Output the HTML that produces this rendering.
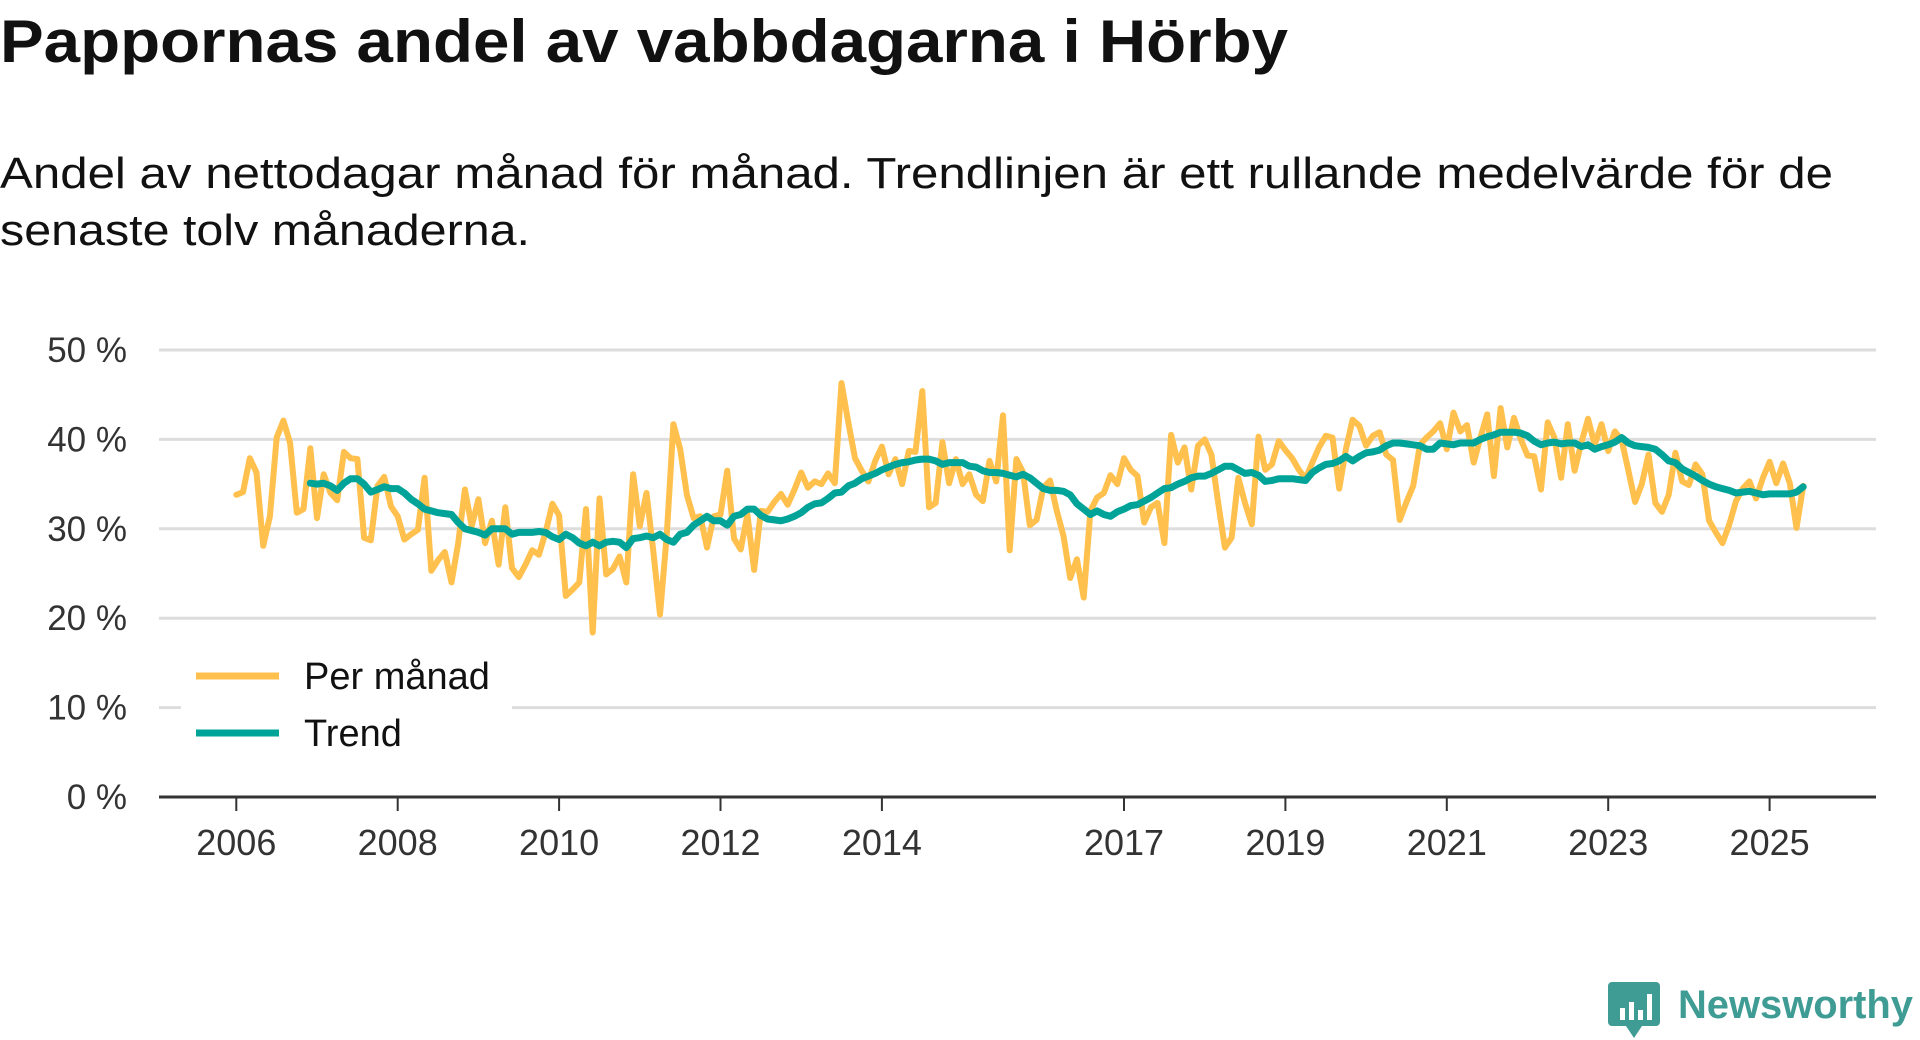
<!DOCTYPE html>
<html><head><meta charset="utf-8"><style>
html,body{margin:0;padding:0;background:#fff;}
body{width:1920px;height:1040px;overflow:hidden;font-family:"Liberation Sans",sans-serif;}
svg{display:block}
</style></head><body>
<svg id="chart" width="1920" height="1040" viewBox="0 0 1920 1040" xmlns="http://www.w3.org/2000/svg">
<text x="0" y="62" font-family="Liberation Sans, sans-serif" font-weight="bold" font-size="60" fill="#111" textLength="1288" lengthAdjust="spacingAndGlyphs">Pappornas andel av vabbdagarna i Hörby</text>
<text x="0" y="188" font-family="Liberation Sans, sans-serif" font-size="44" fill="#111" textLength="1833" lengthAdjust="spacingAndGlyphs">Andel av nettodagar månad för månad. Trendlinjen är ett rullande medelvärde för de</text>
<text x="0" y="245" font-family="Liberation Sans, sans-serif" font-size="44" fill="#111" textLength="530" lengthAdjust="spacingAndGlyphs">senaste tolv månaderna.</text>
<g id="grid"></g>
<g id="series"></g>
<g id="axes"></g>
<g id="legend">
<rect x="181" y="648" width="331" height="112" fill="#fff"/>
<line x1="196" y1="676" x2="279" y2="676" stroke="#FFC04D" stroke-width="7"/>
<text x="304" y="689" font-family="Liberation Sans, sans-serif" font-size="38" fill="#111">Per månad</text>
<line x1="196" y1="733" x2="279" y2="733" stroke="#00A398" stroke-width="7"/>
<text x="304" y="746" font-family="Liberation Sans, sans-serif" font-size="38" fill="#111">Trend</text>
</g>
<g>
<path d="M1612 982 h44 a4 4 0 0 1 4 4 v36 a4 4 0 0 1 -4 4 h-14 l-8 12 l-8 -12 h-14 a4 4 0 0 1 -4 -4 v-36 a4 4 0 0 1 4 -4z" fill="#3f9c94"/>
<rect x="1620" y="1008" width="5" height="12" fill="#fff"/><rect x="1629" y="1002" width="5" height="18" fill="#fff"/><rect x="1638" y="1010" width="5" height="10" fill="#fff"/><rect x="1647" y="994" width="5" height="26" fill="#fff"/>
<text x="1678" y="1018" font-family="Liberation Sans, sans-serif" font-weight="bold" font-size="40" fill="#3f9c94" textLength="235" lengthAdjust="spacingAndGlyphs">Newsworthy</text>
</g>
</svg>
<script>
// ---- data ----
const startYear = 2006; // first month = Jan 2006
const yTicks = [0, 10, 20, 30, 40, 50];
const yTickLabels = ["0 %", "10 %", "20 %", "30 %", "40 %", "50 %"];
const xTickYears = [2006, 2008, 2010, 2012, 2014, 2017, 2019, 2021, 2023, 2025];
const perMonth = [
33.8,34.1,37.9,36.3,28.1,31.4,40.2,42.1,39.6,31.8,32.2,39.0,31.2,36.1,34.0,33.2,38.6,37.9,37.8,29.0,28.7,34.8,35.8,32.5,31.4,28.8,29.4,29.9,35.7,25.3,26.5,27.4,24.0,28.4,34.4,30.3,33.3,28.4,30.9,26.0,32.4,25.6,24.6,26.0,27.6,27.1,29.6,32.8,31.5,22.5,23.2,24.0,32.2,18.4,33.4,24.9,25.5,26.9,24.0,36.1,30.3,34.0,27.5,20.4,29.2,41.7,38.9,33.8,31.2,31.4,27.9,31.4,31.6,36.5,28.9,27.7,
31.6,25.4,32.0,31.9,33.0,33.9,32.7,34.4,36.3,34.6,35.3,35.0,36.2,35.1,46.3,41.9,37.9,36.5,35.3,37.6,39.2,36.1,37.8,35.0,38.7,38.6,45.4,32.4,32.9,39.7,35.1,37.8,35.0,36.1,33.8,33.1,37.6,35.3,42.7,27.6,37.8,36.3,30.4,31.0,34.6,35.4,32.0,29.2,24.5,26.6,22.3,32.0,33.5,34.0,36.0,35.0,37.9,36.6,35.9,30.7,32.4,32.9,28.4,40.5,37.4,39.1,34.4,39.3,40.0,38.3,32.9,27.9,29.0,35.7,32.9,30.5,40.3,36.6,37.2,39.8,38.8,37.9,
36.6,35.6,37.4,39.1,40.4,40.2,34.5,38.9,42.2,41.5,39.3,40.4,40.8,38.3,37.7,31.0,33.0,34.8,39.4,40.2,40.9,41.8,38.9,43.0,40.9,41.6,37.4,40.2,42.8,35.9,43.5,39.1,42.4,40.0,38.2,38.1,34.4,41.9,40.2,35.7,41.7,36.5,39.6,42.3,39.4,41.7,38.7,40.9,39.9,36.5,33.0,35.0,38.3,32.9,31.9,33.8,38.5,35.3,34.9,37.2,36.1,30.9,29.6,28.4,30.5,33.1,34.5,35.3,33.4,35.7,37.5,35.1,37.3,35.1,30.1,34.8
];
const trendStartIndex = 11;
const trend = [
35.1,35.0,35.1,34.8,34.3,35.1,35.6,35.6,35.0,34.1,34.4,34.7,34.5,34.5,34.0,33.3,32.8,32.2,32.0,31.8,31.7,31.6,30.7,30.0,29.8,29.6,29.3,30.0,30.0,30.0,29.4,29.6,29.6,29.6,29.7,29.6,29.1,28.8,29.4,29.0,28.4,28.1,28.5,28.1,28.5,28.6,28.5,27.9,28.9,29.0,29.2,29.0,29.4,28.8,28.5,29.4,29.6,30.4,30.9,31.4,30.9,30.9,30.4,31.4,31.6,32.2,
32.2,31.5,31.1,31.0,30.9,31.1,31.4,31.8,32.4,32.8,32.9,33.4,34.0,34.1,34.8,35.1,35.6,35.9,36.2,36.6,36.9,37.2,37.4,37.5,37.7,37.8,37.8,37.6,37.2,37.4,37.4,37.4,37.0,36.9,36.5,36.3,36.3,36.2,36.0,35.8,36.1,35.7,35.1,34.5,34.3,34.3,34.2,33.8,32.8,32.2,31.6,32.0,31.6,31.4,31.9,32.2,32.6,32.7,33.1,33.5,34.0,34.5,34.6,35.0,35.3,35.7,35.9,35.9,36.2,36.6,37.0,37.0,36.6,36.2,36.3,36.0,35.3,35.4,35.6,35.6,35.6,35.5,35.4,
36.3,36.8,37.2,37.3,37.6,38.1,37.6,38.1,38.5,38.6,38.8,39.3,39.6,39.6,39.5,39.4,39.3,38.9,38.9,39.6,39.5,39.4,39.6,39.6,39.6,40.0,40.3,40.5,40.8,40.8,40.8,40.7,40.4,39.8,39.4,39.6,39.7,39.5,39.6,39.6,39.2,39.4,38.9,39.2,39.4,39.7,40.2,39.6,39.3,39.2,39.1,38.9,38.3,37.6,37.4,36.7,36.3,35.9,35.4,35.0,34.7,34.5,34.3,34.0,34.1,34.2,34.0,33.8,33.9,33.9,33.9,33.9,34.1,34.7
];
// ---- scales ----
const NS = "http://www.w3.org/2000/svg";
const plotLeft = 159, plotRight = 1876, yZero = 797, yTop50 = 350;
const x0 = 236.3, pxPerYear = 80.7;
function xScale(year){ return x0 + (year - 2006) * pxPerYear; }
function xIndex(i){ return xScale(startYear + i / 12); }
function yScale(v){ return yZero - (v / 50) * (yZero - yTop50); }
function mk(tag, attrs){ const e = document.createElementNS(NS, tag); for (const k in attrs) e.setAttribute(k, attrs[k]); return e; }

const grid = document.getElementById('grid');
const axes = document.getElementById('axes');
const series = document.getElementById('series');

yTicks.forEach((t, k) => {
  if (t !== 0) {
    const g = mk('line', {x1: plotLeft, x2: plotRight, y1: yScale(t), y2: yScale(t), stroke: '#dddddd', 'stroke-width': 3});
    
    
    grid.appendChild(g);
  }
  const lab = mk('text', {x: 127, y: yScale(t) + 12, 'text-anchor': 'end', 'font-family': 'Liberation Sans, sans-serif', 'font-size': 35, fill: '#333'});
  lab.textContent = yTickLabels[k];
  
  
  axes.appendChild(lab);
});
const axisLine = mk('line', {x1: plotLeft, x2: plotRight, y1: yZero, y2: yZero, stroke: '#333', 'stroke-width': 3});


axes.appendChild(axisLine);
xTickYears.forEach(yr => {
  const x = xScale(yr);
  const tk = mk('line', {x1: x, x2: x, y1: yZero, y2: yZero + 14, stroke: '#333', 'stroke-width': 2});
  
  
  axes.appendChild(tk);
  const lab = mk('text', {x: x, y: 855, 'text-anchor': 'middle', 'font-family': 'Liberation Sans, sans-serif', 'font-size': 36, fill: '#333'});
  lab.textContent = String(yr);
  
  
  axes.appendChild(lab);
});
function pathFrom(vals, offset){
  return vals.map((v, i) => (i ? 'L' : 'M') + xIndex(i + offset).toFixed(1) + ' ' + yScale(v).toFixed(1)).join(' ');
}
const pm = mk('path', {d: pathFrom(perMonth, 0), fill: 'none', stroke: '#FFC04D', 'stroke-width': 6, 'stroke-linejoin': 'round', 'stroke-linecap': 'round'});


series.appendChild(pm);
const tr = mk('path', {d: pathFrom(trend, trendStartIndex), fill: 'none', stroke: '#00A398', 'stroke-width': 7, 'stroke-linejoin': 'round', 'stroke-linecap': 'round'});


series.appendChild(tr);
</script>
</body></html>
